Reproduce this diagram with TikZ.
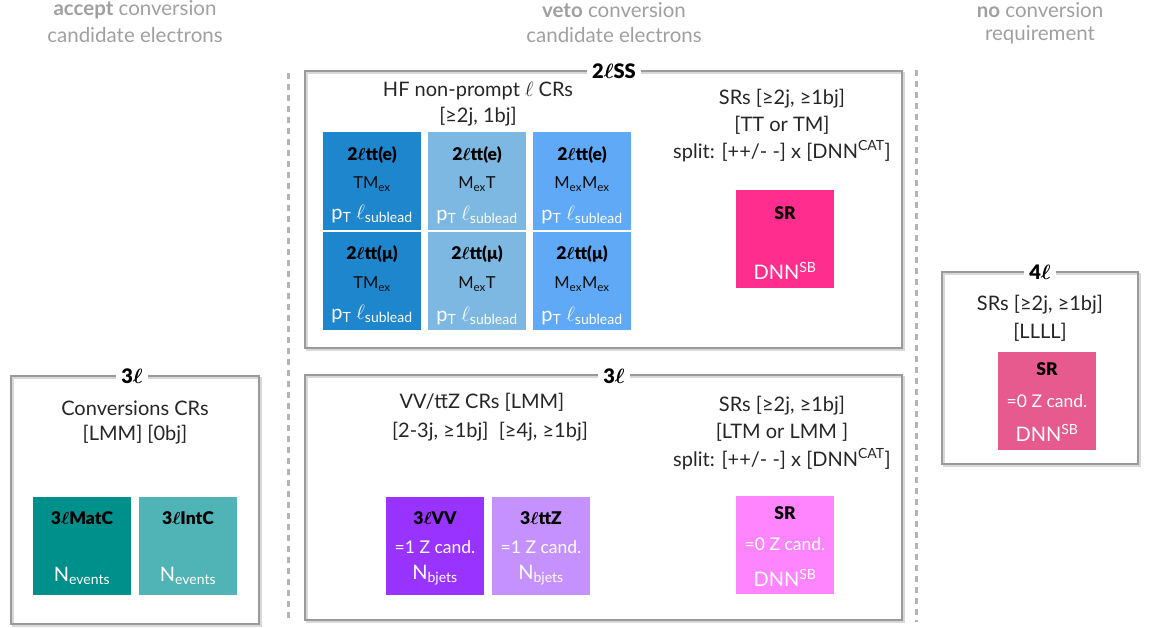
\documentclass[tikz,border=0pt]{standalone}
\usepackage{fontspec}
\setmainfont{Lato}
\newfontfamily\heavy{Lato Black}
\newcommand{\lep}{$\ell$}
\newcommand{\blep}{{\boldmath$\ell$}}
\definecolor{hdrgray}{HTML}{A0A0A0}
\definecolor{framegray}{HTML}{9A9A9A}
\definecolor{shadowgray}{HTML}{D8D8D8}
\definecolor{dashgray}{HTML}{B4B4B4}
\definecolor{cA}{HTML}{1E86CC}
\definecolor{cB}{HTML}{7DB8E2}
\definecolor{cC}{HTML}{5FA9F6}
\definecolor{srpink}{HTML}{FF2D8E}
\definecolor{srfour}{HTML}{E65A8D}
\definecolor{matc}{HTML}{00908C}
\definecolor{intc}{HTML}{50B3B6}
\definecolor{vvc}{HTML}{9933FF}
\definecolor{ttzc}{HTML}{C591FF}
\definecolor{srthree}{HTML}{FF85FF}
\begin{document}
\begin{tikzpicture}[x=1pt,y=-1pt,
  frame/.style={draw=framegray, line width=2.5pt},
  shadow/.style={draw=shadowgray, line width=2.5pt},
  cell/.style={minimum width=98pt, minimum height=98pt, inner sep=0pt, anchor=north west, draw=none},
  tag/.style={fill=white, font=\heavy\fontsize{20}{20}\selectfont, inner xsep=5pt, inner ysep=1pt, text=black},
  txt/.style={font=\fontsize{20}{20}\selectfont, text=black!85, inner sep=0pt},
  hdr/.style={font=\fontsize{20.5}{20.5}\selectfont, text=hdrgray, inner sep=0pt},
  bl/.style={font=\heavy\fontsize{17.5}{17.5}\selectfont, text=black, inner sep=0pt},
  mid/.style={font=\fontsize{16.5}{16.5}\selectfont, text=black!95, inner sep=0pt},
  wt/.style={font=\fontsize{20}{20}\selectfont, text=white, inner sep=0pt},
  wts/.style={font=\fontsize{17.5}{17.5}\selectfont, text=white, inner sep=0pt},
  vsep/.style={draw=dashgray, line width=3pt, dash pattern=on 6pt off 5pt}
]
\useasboundingbox (0,0) rectangle (1149,628);

% headers
\node[hdr] (h1a) at (135,10) {\textbf{accept} conversion};
\node[hdr] (h1b) at (135,35) {candidate electrons};
\node[hdr] (h2a) at (614,10) {\textbf{veto} conversion};
\node[hdr] (h2b) at (614,35) {candidate electrons};
\node[hdr] (h3a) at (1040,10) {\textbf{no} conversion};
\node[hdr] (h3b) at (1040,35) {requirement};

% dashed separators
\coordinate (d1t) at (288,73); \coordinate (d1b) at (288,622);
\coordinate (d2t) at (916,70); \coordinate (d2b) at (916,622);
\draw[vsep] (d1t) -- (d1b);
\draw[vsep] (d2t) -- (d2b);

% ---------- 2lSS frame ----------
\draw[shadow] (307,73) rectangle (904,350);
\draw[frame] (305,71) rectangle (902,348);
\node[tag] (t2ss) at (614,71) {2\blep SS};
\node[txt] (hf1) at (478,91) {HF non-prompt \lep\ CRs};
\node[txt] (hf2) at (478,117) {[≥2j, 1bj]};

% cells
\node[cell, fill=cA] (e1) at (323,132) {};
\node[cell, fill=cB] (e2) at (428,132) {};
\node[cell, fill=cC] (e3) at (533,132) {};
\node[cell, fill=cA] (m1) at (323,232) {};
\node[cell, fill=cB] (m2) at (428,232) {};
\node[cell, fill=cC] (m3) at (533,232) {};

\node[bl] (e1a) at (372,155) {2\blep tt(e)};
\node[mid] (e1b) at (372,184) {TM\textsubscript{ex}};
\node[wt] (e1c) at (372,214) {p\textsubscript{T} \lep\textsubscript{sublead}};
\node[bl] (e2a) at (477,155) {2\blep tt(e)};
\node[mid] (e2b) at (477,184) {M\textsubscript{ex}T};
\node[wt] (e2c) at (477,215) {p\textsubscript{T} \lep\textsubscript{sublead}};
\node[bl] (e3a) at (582,155) {2\blep tt(e)};
\node[mid] (e3b) at (582,184) {M\textsubscript{ex}M\textsubscript{ex}};
\node[wt] (e3c) at (582,215) {p\textsubscript{T} \lep\textsubscript{sublead}};

\node[bl] (m1a) at (372,254) {2\blep tt(μ)};
\node[mid] (m1b) at (372,284) {TM\textsubscript{ex}};
\node[wt] (m1c) at (372,314) {p\textsubscript{T} \lep\textsubscript{sublead}};
\node[bl] (m2a) at (477,254) {2\blep tt(μ)};
\node[mid] (m2b) at (477,284) {M\textsubscript{ex}T};
\node[wt] (m2c) at (477,316) {p\textsubscript{T} \lep\textsubscript{sublead}};
\node[bl] (m3a) at (582,254) {2\blep tt(μ)};
\node[mid] (m3b) at (582,284) {M\textsubscript{ex}M\textsubscript{ex}};
\node[wt] (m3c) at (582,316) {p\textsubscript{T} \lep\textsubscript{sublead}};

% SRs 2lSS
\node[txt] (s1a) at (782,99) {SRs [≥2j, ≥1bj]};
\node[txt] (s1b) at (782,125) {[TT or TM]};
\node[txt] (s1c) at (782,151) {split: [++/- -] x [DNN\textsuperscript{CAT}]};
\node[cell, fill=srpink] (sr1) at (736,190) {};
\node[bl] (sr1a) at (785,213) {SR};
\node[wt] (sr1b) at (785,271) {DNN\textsuperscript{SB}};

% ---------- 4l frame ----------
\draw[shadow] (944,274) rectangle (1140,466);
\draw[frame] (942,272) rectangle (1138,464);
\node[tag] (t4l) at (1040,272) {4\blep};
\node[txt] (f4a) at (1040,305) {SRs [≥2j, ≥1bj]};
\node[txt] (f4b) at (1040,332) {[LLLL]};
\node[cell, fill=srfour] (sr4) at (998,352) {};
\node[bl] (sr4a) at (1047,369) {SR};
\node[wts] (sr4b) at (1047,401) {=0 Z cand.};
\node[wt] (sr4c) at (1047,433) {DNN\textsuperscript{SB}};

% ---------- left 3l frame ----------
\draw[shadow] (13,378) rectangle (261,626);
\draw[frame] (11,376) rectangle (259,624);
\node[tag] (t3a) at (132,376) {3\blep};
\node[txt] (c1a) at (135,408) {Conversions CRs};
\node[txt] (c1b) at (135,435) {[LMM] [0bj]};
\node[cell, fill=matc] (mat) at (33,497) {};
\node[cell, fill=intc] (int) at (139,497) {};
\node[bl] (mata) at (82,518) {3\blep MatC};
\node[wt] (matb) at (82,576) {N\textsubscript{events}};
\node[bl] (inta) at (188,518) {3\blep IntC};
\node[wt] (intb) at (188,576) {N\textsubscript{events}};

% ---------- middle 3l frame ----------
\draw[shadow] (307,377) rectangle (904,622);
\draw[frame] (305,375) rectangle (902,620);
\node[tag] (t3b) at (614,376) {3\blep};
\node[txt] (v1a) at (482,402) {VV/t\={t}Z CRs [LMM]};
\node[txt] (v1b) at (490,432) {[2-3j, ≥1bj]\ \ [≥4j, ≥1bj]};
\node[cell, fill=vvc] (vv) at (386,497) {};
\node[cell, fill=ttzc] (ttz) at (492,497) {};
\node[bl] (vva) at (435,518) {3\blep VV};
\node[wts] (vvb) at (435,547) {=1 Z cand.};
\node[wt] (vvc) at (435,575) {N\textsubscript{bjets}};
\node[bl] (ttza) at (541,518) {3\blep ttZ};
\node[wts] (ttzb) at (541,547) {=1 Z cand.};
\node[wt] (ttzc) at (541,575) {N\textsubscript{bjets}};

\node[txt] (s3a) at (782,406) {SRs [≥2j, ≥1bj]};
\node[txt] (s3b) at (782,432) {[LTM or LMM ]};
\node[txt] (s3c) at (782,459) {split: [++/- -] x [DNN\textsuperscript{CAT}]};
\node[cell, fill=srthree] (sr3) at (736,496) {};
\node[bl] (sr3a) at (785,513) {SR};
\node[wts] (sr3b) at (785,544) {=0 Z cand.};
\node[wt] (sr3c) at (785,578) {DNN\textsuperscript{SB}};
\end{tikzpicture}
\end{document}
